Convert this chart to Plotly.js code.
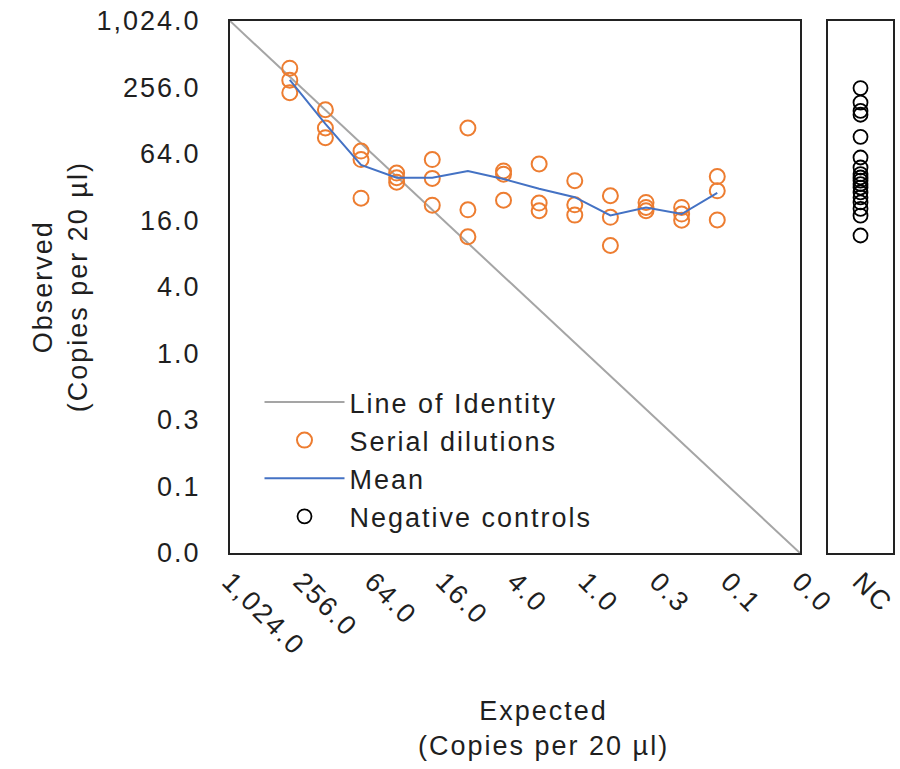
<!DOCTYPE html>
<html>
<head>
<meta charset="utf-8">
<script src="https://cdn.plot.ly/plotly-3.0.1.min.js"></script>
<style>
html,body{margin:0;padding:0;background:#fff;}
#chart{width:900px;height:769px;}
svg text{letter-spacing:2px;}
</style>
</head>
<body>
<div id="chart"></div>
<script>
// Axis ticks (log base-4 steps)
const tickVals = [1024, 256, 64, 16, 4, 1, 0.25, 0.0625, 0.015625];
const tickText = ["1,024.0", "256.0", "64.0", "16.0", "4.0", "1.0", "0.3", "0.1", "0.0"];

// Line of identity
const identityX = [1024, 0.015625];
const identityY = [1024, 0.015625];

// Serial dilutions: expected copies per group and three observed replicates
const expected = [320, 160, 80, 40, 20, 10, 5, 2.5, 1.25, 0.625, 0.3125, 0.15625, 0.078125];
const rep1 = [383, 161, 68, 43, 57, 110, 45, 52, 36.7, 26.8, 23.3, 21.0, 40.0];
const rep2 = [298, 110, 57, 39, 38.5, 20, 42, 23, 22.2, 17.1, 21.0, 18.3, 29.7];
const rep3 = [230, 90, 25.5, 35.5, 22, 11.4, 24.4, 19.6, 17.9, 9.5, 19.6, 16.1, 16.2];

// Mean line
const meanObs = [300, 120, 51, 39, 39, 45, 38, 31, 26, 17.8, 21, 18.3, 28.5];

// Negative controls
const ncCategory = "NC";
const ncValues = [253, 187, 157, 145, 91.5, 59.5, 48.3, 42.1, 39.2, 36.7, 34.2, 31.8, 28.7, 25.9, 23.3, 20.4, 17.7, 11.7];

const serialX = [].concat(expected, expected, expected);
const serialY = [].concat(rep1, rep2, rep3);

const FONT = "Liberation Sans, Arial, sans-serif";
const TXT = "#1f1f1f";
const FS = 27;

const traces = [
  {x: identityX, y: identityY, mode: "lines", name: "Line of Identity",
   line: {color: "#A5A5A5", width: 2}, xaxis: "x", yaxis: "y", legendgroup: "a"},
  {x: serialX, y: serialY, mode: "markers", name: "Serial dilutions",
   marker: {symbol: "circle-open", size: 15, color: "#ED7D31", line: {width: 2, color: "#ED7D31"}},
   xaxis: "x", yaxis: "y", legendgroup: "b"},
  {x: expected, y: meanObs, mode: "lines", name: "Mean",
   line: {color: "#4472C4", width: 2}, xaxis: "x", yaxis: "y", legendgroup: "c"},
  {x: ncValues.map(() => ncCategory), y: ncValues, mode: "markers", name: "Negative controls",
   marker: {symbol: "circle-open", size: 14, color: "#000", line: {width: 1.8, color: "#000"}},
   xaxis: "x2", yaxis: "y", legendgroup: "d"}
];

const L = Math.log10;
const layout = {
  width: 900, height: 769,
  margin: {l: 230, r: 7, t: 21, b: 216},
  paper_bgcolor: "#fff", plot_bgcolor: "#fff",
  font: {family: FONT, size: FS, color: TXT},
  showlegend: true,
  legend: {x: 0.0445, y: 0.329, xanchor: "left", yanchor: "top", bgcolor: "rgba(0,0,0,0)",
           font: {size: FS, color: TXT}, traceorder: "grouped", tracegroupgap: 0, itemwidth: 80},
  xaxis: {type: "log", domain: [0, 0.8597], range: [L(1024), L(0.015625)], anchor: "y",
          tickvals: tickVals, ticktext: tickText, tickangle: 45, showgrid: false, zeroline: false,
          showline: true, linecolor: "#222", linewidth: 2, mirror: true, ticks: "",
          tickfont: {size: FS, color: TXT}},
  xaxis2: {type: "category", domain: [0.902, 1], range: [-0.5, 0.5], anchor: "y",
           showgrid: false, zeroline: false, showline: true, linecolor: "#222", linewidth: 2,
           mirror: true, ticks: "", tickangle: 45, tickfont: {size: FS, color: TXT}},
  yaxis: {type: "log", domain: [0, 1], range: [L(0.015625), L(1024)], anchor: "x",
          tickvals: tickVals, ticktext: tickText, showgrid: false, zeroline: false,
          showline: true, linecolor: "#222", linewidth: 2, mirror: "all", ticks: "",
          ticklabelstandoff: 22, tickfont: {size: FS, color: TXT}},
  annotations: [
    {text: "Observed<br>(Copies per 20 µl)", xref: "paper", yref: "paper", x: -0.256, y: 0.5,
     textangle: -90, showarrow: false, font: {size: FS, color: TXT}, xanchor: "center", yanchor: "middle"},
    {text: "Expected<br>(Copies per 20 µl)", xref: "paper", yref: "paper", x: 0.4736, y: -0.329,
     showarrow: false, font: {size: FS, color: TXT}, xanchor: "center", yanchor: "middle"}
  ]
};

Plotly.newPlot("chart", traces, layout, {displayModeBar: false, staticPlot: true});
</script>
</body>
</html>
